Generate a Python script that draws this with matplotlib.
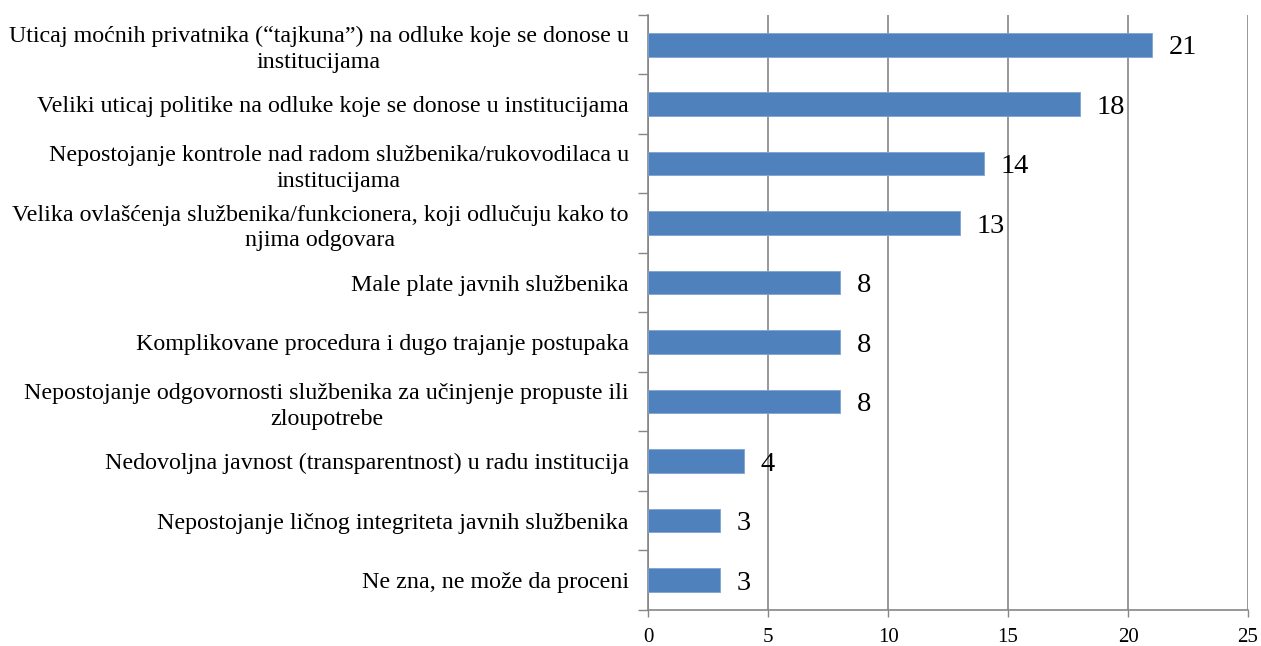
import matplotlib.pyplot as plt
import numpy as np

# razlozi korupcije i broj odgovora
labels = [
    "Uticaj moćnih privatnika (“tajkuna”) na odluke koje se donose u\ninstitucijama",
    "Veliki uticaj politike na odluke koje se donose u institucijama",
    "Nepostojanje kontrole nad radom službenika/rukovodilaca u\ninstitucijama",
    "Velika ovlašćenja službenika/funkcionera, koji odlučuju kako to\nnjima odgovara",
    "Male plate javnih službenika",
    "Komplikovane procedura i dugo trajanje postupaka",
    "Nepostojanje odgovornosti službenika za učinjenje propuste ili\nzloupotrebe",
    "Nedovoljna javnost (transparentnost) u radu institucija",
    "Nepostojanje ličnog integriteta javnih službenika",
    "Ne zna, ne može da proceni",
]
values = [21, 18, 14, 13, 8, 8, 8, 4, 3, 3]
xticks = [0, 5, 10, 15, 20, 25]

plt.rcParams['font.family'] = ['Liberation Serif', 'DejaVu Serif']

fig, ax = plt.subplots(figsize=(12.61, 6.46), dpi=100)
fig.subplots_adjust(left=0.514, right=0.9897, top=0.977, bottom=0.056)

gray = '#868686'
y = np.arange(len(values))

ax.barh(y, values, height=0.4, color='#4F81BD', edgecolor='#7FA3D3', linewidth=0.6, zorder=3)

for yi, v in zip(y, values):
    ax.text(v + 0.7, yi + 0.05, str(v), va='center', ha='left', fontsize=20.5, color='black')

ax.set_xlim(0, 25)
ax.set_ylim(len(values) - 0.5, -0.5)
ax.set_xticks(xticks)
ax.set_xticklabels([str(t) for t in xticks], fontsize=15)

ax.set_yticks(y)
ax.set_yticklabels(labels, fontsize=17.3, multialignment='center', linespacing=1.3)
ax.set_yticks(np.arange(-0.5, len(values), 1), minor=True)
ax.tick_params(axis='y', which='major', length=0, pad=14)
ax.tick_params(axis='y', which='minor', length=7, width=1.0, color=gray)
ax.tick_params(axis='x', which='major', length=5, width=1.0, color=gray, pad=8)

ax.grid(axis='x', color=gray, linewidth=1.2, zorder=0)
for s in ['top', 'right']:
    ax.spines[s].set_visible(False)
for s in ['left', 'bottom']:
    ax.spines[s].set_color(gray)
    ax.spines[s].set_linewidth(1.2)

plt.savefig('out.png', dpi=100)
